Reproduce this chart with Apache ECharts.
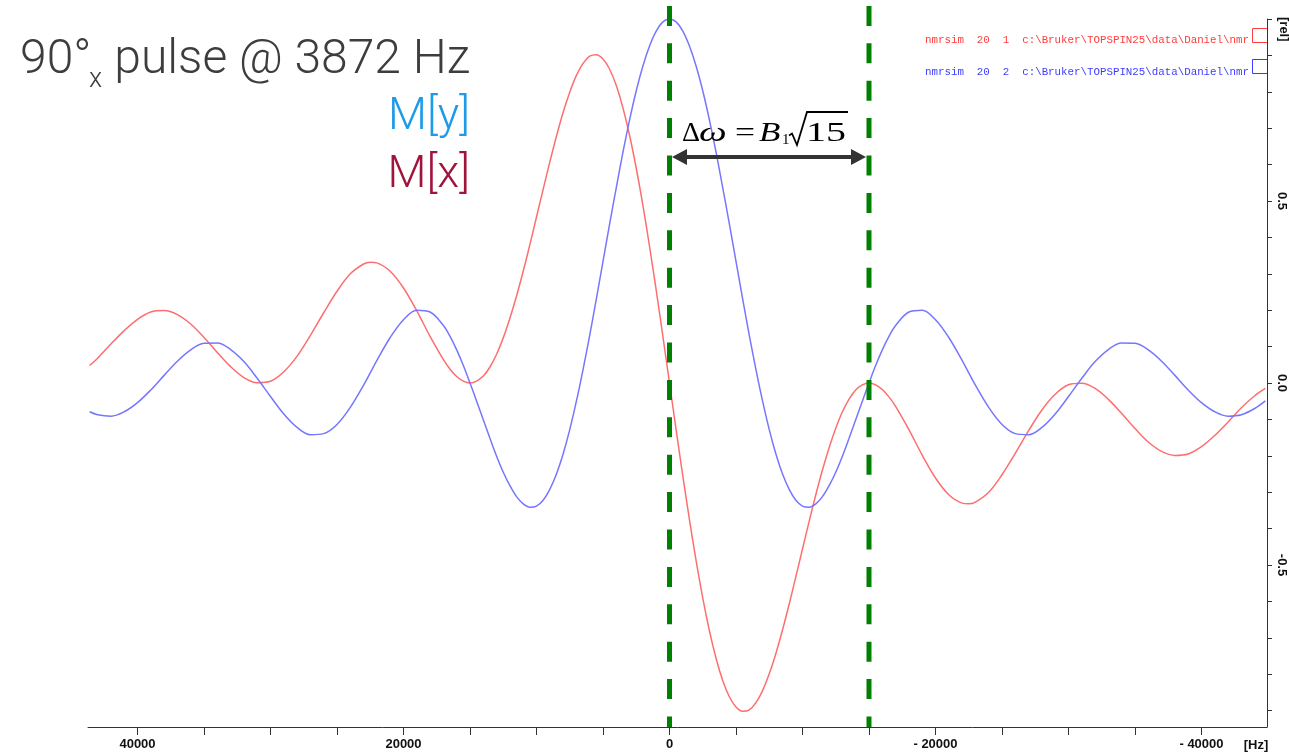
<!DOCTYPE html>
<html>
<head>
<meta charset="utf-8">
<script src="https://cdn.jsdelivr.net/npm/echarts@6/dist/echarts.min.js"></script>
<style>
html,body{margin:0;padding:0;background:#ffffff;}
#chart{width:1289px;height:754px;}
</style>
</head>
<body>
<div id="chart"></div>
<script>
// ---------------- data ----------------
const freqHz = [
  43600, 43000, 42000, 41000, 40000, 39000, 38000, 37000, 36000, 35000, 34000, 33000, 32000, 31000,
  30000, 29000, 28000, 27000, 26000, 25000, 24000, 23000, 22500, 22000, 21000, 20000, 19000, 18000, 17000,
  16500, 16000, 15500, 15000, 14500, 14000, 13500, 13000, 12500, 12000, 11500, 11000, 10500, 10000,
  9500, 9000, 8500, 8000, 7500, 7000, 6500, 6000, 5500, 5000, 4500, 4000, 3500, 3000, 2500, 2000,
  1500, 1000, 500, 0,
  -500, -1000, -1500, -2000, -2500, -3000, -3500, -4000, -4500, -5000, -5500, -6000, -6500, -7000,
  -7500, -8000, -8500, -9000, -9500, -10000, -10500, -11000, -11500, -12000, -12500, -13000, -13500,
  -14000, -14500, -15000, -15500, -16000, -16500,
  -17000, -18000, -19000, -20000, -21000, -22000, -22500, -23000, -24000, -25000, -26000, -27000, -28000,
  -29000, -30000, -31000, -32000, -33000, -34000, -35000, -36000, -37000, -38000, -39000, -40000,
  -41000, -42000, -43000, -44000, -44800
];
const myValues = [
  -0.079, -0.087, -0.091, -0.079, -0.054, -0.019, 0.021, 0.060, 0.091, 0.109, 0.110, 0.092, 0.059, 0.013,
  -0.037, -0.085, -0.122, -0.142, -0.139, -0.114, -0.067, -0.006, 0.028, 0.062, 0.125, 0.174, 0.200, 0.195, 0.158,
  0.128, 0.091, 0.048, 0.000, -0.050, -0.101, -0.152, -0.201, -0.245, -0.282, -0.312, -0.332, -0.341, -0.338,
  -0.322, -0.292, -0.250, -0.195, -0.128, -0.050, 0.037, 0.131, 0.231, 0.334, 0.437, 0.537, 0.634, 0.723, 0.803, 0.871,
  0.926, 0.967, 0.992, 1.000,
  0.992, 0.967, 0.926, 0.871, 0.803, 0.723, 0.634, 0.537, 0.437, 0.334, 0.231, 0.131, 0.037, -0.050,
  -0.128, -0.195, -0.250, -0.292, -0.322, -0.338, -0.341, -0.332, -0.312, -0.282, -0.245, -0.201, -0.152,
  -0.101, -0.050, 0.000, 0.048, 0.091, 0.128,
  0.158, 0.195, 0.200, 0.174, 0.125, 0.062, 0.028, -0.006, -0.067, -0.114, -0.139, -0.142, -0.122,
  -0.085, -0.037, 0.013, 0.059, 0.092, 0.110, 0.109, 0.091, 0.060, 0.021, -0.019, -0.054,
  -0.079, -0.091, -0.087, -0.070, -0.049
];
const mxValues = [
  0.048, 0.068, 0.107, 0.144, 0.175, 0.195, 0.199, 0.188, 0.162, 0.125, 0.084, 0.045, 0.015, 0.001,
  0.005, 0.031, 0.074, 0.131, 0.193, 0.252, 0.300, 0.327, 0.332, 0.330, 0.307, 0.261, 0.198, 0.128, 0.064,
  0.038, 0.018, 0.005, 0.000, 0.005, 0.019, 0.044, 0.079, 0.124, 0.178, 0.239, 0.307, 0.380, 0.456,
  0.532, 0.607, 0.678, 0.743, 0.799, 0.845, 0.878, 0.898, 0.902, 0.890, 0.862, 0.817, 0.756, 0.680, 0.590, 0.488,
  0.375, 0.255, 0.129, 0.000,
  -0.129, -0.255, -0.375, -0.488, -0.590, -0.680, -0.756, -0.817, -0.862, -0.890, -0.902, -0.898, -0.878, -0.845,
  -0.799, -0.743, -0.678, -0.607, -0.532, -0.456, -0.380, -0.307, -0.239, -0.178, -0.124, -0.079, -0.044,
  -0.019, -0.005, 0.000, -0.005, -0.018, -0.038,
  -0.064, -0.128, -0.198, -0.261, -0.307, -0.330, -0.332, -0.327, -0.300, -0.252, -0.193, -0.131, -0.074,
  -0.031, -0.005, -0.001, -0.015, -0.045, -0.084, -0.125, -0.162, -0.188, -0.199, -0.195, -0.175,
  -0.144, -0.107, -0.068, -0.035, -0.015
];
const xTickValues = [40000, 35000, 30000, 25000, 20000, 15000, 10000, 5000, 0,
  -5000, -10000, -15000, -20000, -25000, -30000, -35000, -40000];
const xLabelValues = [40000, 20000, 0, -20000, -40000];
const yTickValues = [1.0, 0.9, 0.8, 0.7, 0.6, 0.5, 0.4, 0.3, 0.2, 0.1, 0.0,
  -0.1, -0.2, -0.3, -0.4, -0.5, -0.6, -0.7, -0.8, -0.9];
const yLabelValues = [0.5, 0.0, -0.5];
const guideHz = [0, -15000];          // dashed green guides
const guideSpan = [1.036, -0.945];    // vertical extent of guides
const arrowHz = [-750, -14210];       // arrow between guides
const arrowLevel = 0.621;
const fileRows = [
  'nmrsim  20  1  c:\\Bruker\\TOPSPIN25\\data\\Daniel\\nmr',
  'nmrsim  20  2  c:\\Bruker\\TOPSPIN25\\data\\Daniel\\nmr'
];
const seriesNames = ['M[x]', 'M[y]'];

// ---------------- chart ----------------
const chart = echarts.init(document.getElementById('chart'), null, {renderer: 'canvas'});
const redLine = '#ff6e6e';
const blueLine = '#7676ff';
const axisColor = '#333333';
const labelFont = "'Liberation Sans', Arial, sans-serif";
const serif = "'Liberation Serif', 'DejaVu Serif', serif";
const roboto = "Roboto, 'Noto Sans', sans-serif";

const guideSeries = guideHz.map((h, i) => ({
  type: 'line',
  name: 'guide' + i,
  data: [[h, guideSpan[0]], [h, guideSpan[1]]],
  symbol: 'none',
  clip: false,
  silent: true,
  z: 5,
  lineStyle: {color: '#008000', width: 5, type: [20, 17.4]},
  markLine: i === 0 ? {
    silent: true,
    symbol: ['triangle', 'triangle'],
    symbolSize: [16, 15],
    label: {show: false},
    lineStyle: {color: '#333333', width: 4, type: 'solid'},
    data: [[{coord: [arrowHz[0], arrowLevel]}, {coord: [arrowHz[1], arrowLevel]}]]
  } : undefined
}));

function txt(x, y, text, o) {
  return {
    type: 'text', x: x, y: y, z: 100,
    rotation: o.rotation || 0,
    scaleX: o.scaleX || 1,
    style: {
      text: text,
      fontFamily: o.family || roboto,
      fontSize: o.size,
      fontWeight: o.weight || 'normal',
      fontStyle: o.style || 'normal',
      fill: o.color || '#000',
      align: o.align || 'left', textAlign: o.align || 'left',
      verticalAlign: 'middle', textVerticalAlign: 'middle'
    }
  };
}
function poly(points, color, width) {
  return {type: 'polyline', z: 100, shape: {points: points},
    style: {stroke: color, lineWidth: width, fill: null}};
}

const titleColor = '#3d3d3d';
const graphics = [
  txt(20, 61, '90°', {size: 48, weight: 300, color: titleColor}),
  txt(89, 80, 'x', {size: 27, weight: 300, color: titleColor}),
  txt(470, 61, 'pulse @ 3872 Hz', {size: 48, weight: 300, color: titleColor, align: 'right'}),
  txt(470, 118, 'M[y]', {size: 45, weight: 300, color: '#1e9be6', align: 'right'}),
  txt(470, 176, 'M[x]', {size: 45, weight: 300, color: '#a0143c', align: 'right'}),
  txt(925, 40, fileRows[0], {size: 10.8, family: "'Liberation Mono', 'DejaVu Sans Mono', monospace", color: '#ff3c3c'}),
  txt(925, 72, fileRows[1], {size: 10.8, family: "'Liberation Mono', 'DejaVu Sans Mono', monospace", color: '#3c3cff'}),
  poly([[1267, 28.5], [1252.5, 28.5], [1252.5, 42.5], [1267, 42.5]], '#ff3c3c', 1),
  poly([[1267, 59.5], [1252.5, 59.5], [1252.5, 73.5], [1267, 73.5]], '#3c3cff', 1),
  // formula  Δω = B1 √15
  txt(682, 134, 'Δ', {size: 28, family: serif}),
  txt(699, 134, 'ω', {size: 28, family: serif, style: 'italic', scaleX: 1.4}),
  txt(735, 134, '=', {size: 28, family: serif, scaleX: 1.27}),
  txt(759, 134, 'B', {size: 28, family: serif, style: 'italic', scaleX: 1.25}),
  txt(782, 140, '1', {size: 15, family: serif}),
  txt(806, 134, '15', {size: 28, family: serif, scaleX: 1.43}),
  poly([[789, 135.5], [792, 133.5], [797, 145], [807, 112], [848, 112]], '#000', 1.8),
  txt(1256, 745, '[Hz]', {size: 13, family: labelFont, weight: 'bold', color: '#111'}),
  txt(1284, 17, '[rel]', {size: 13, family: labelFont, weight: 'bold', color: '#111', rotation: -Math.PI / 2})
];
graphics[16].style.align = 'center'; graphics[16].style.textAlign = 'center';

const option = {
  animation: false,
  backgroundColor: '#ffffff',
  grid: {left: 88, right: 22, top: 19, bottom: 27, containLabel: false},
  xAxis: {
    type: 'value', min: -44925, max: 43722, inverse: true,
    axisLine: {show: true, onZero: false, lineStyle: {color: axisColor, width: 1}},
    axisTick: {show: true, length: 8, customValues: xTickValues, lineStyle: {color: axisColor, width: 1}},
    axisLabel: {
      show: true, customValues: xLabelValues, margin: 11,
      fontFamily: labelFont, fontWeight: 'bold', fontSize: 13, color: '#111',
      formatter: v => (v < 0 ? '- ' + (-v) : String(v))
    },
    splitLine: {show: false}
  },
  yAxis: {
    type: 'value', min: -0.945, max: 1.0, position: 'right',
    axisLine: {show: true, onZero: false, lineStyle: {color: axisColor, width: 1}},
    axisTick: {show: true, length: 5, customValues: yTickValues, lineStyle: {color: axisColor, width: 1}},
    axisLabel: {
      show: true, customValues: yLabelValues, rotate: -90, margin: 8,
      fontFamily: labelFont, fontWeight: 'bold', fontSize: 13, color: '#111',
      formatter: v => Number(v).toFixed(1)
    },
    splitLine: {show: false}
  },
  series: [
    {
      type: 'line', name: seriesNames[0],
      data: freqHz.map((h, i) => [h, mxValues[i]]),
      symbol: 'none', smooth: 0.35, z: 2,
      lineStyle: {color: redLine, width: 1.5}
    },
    {
      type: 'line', name: seriesNames[1],
      data: freqHz.map((h, i) => [h, myValues[i]]),
      symbol: 'none', smooth: 0.35, z: 3,
      lineStyle: {color: blueLine, width: 1.5}
    }
  ].concat(guideSeries),
  graphic: graphics
};
chart.setOption(option);
</script>
</body>
</html>
